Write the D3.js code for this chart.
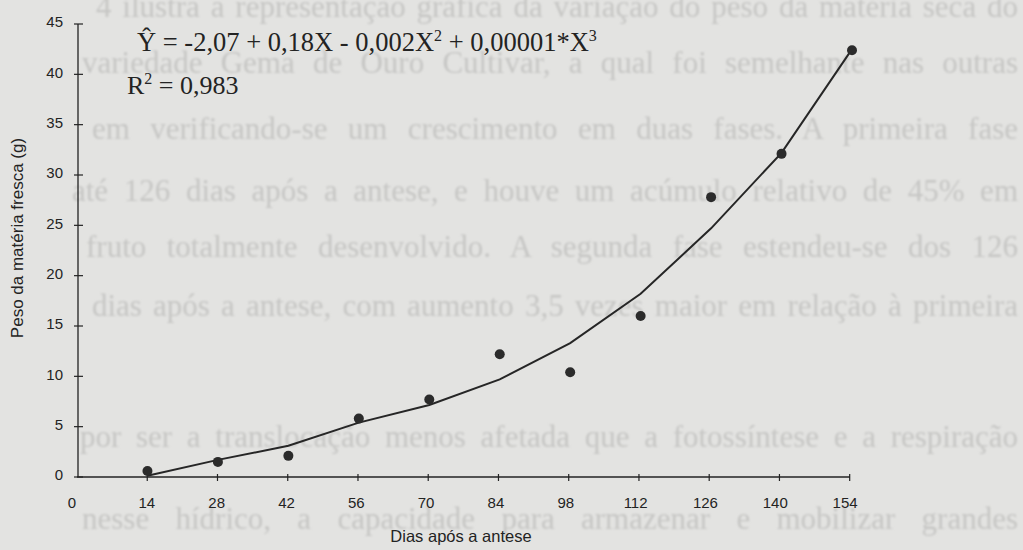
<!DOCTYPE html>
<html>
<head>
<meta charset="utf-8">
<script src="https://cdn.jsdelivr.net/npm/d3@7"></script>
<style>
  html, body { margin: 0; padding: 0; background: #e3e3e1; }
  svg { display: block; }
</style>
</head>
<body>
<svg id="chart" width="1023" height="550"></svg>
<script>
// Days after anthesis and fresh-matter weight (g)
const days = [14, 28, 42, 56, 70, 84, 98, 112, 126, 140, 154];
const observed = [0.6, 1.5, 2.1, 5.8, 7.7, 12.2, 10.4, 16.0, 27.8, 32.1, 42.4];
const fitted = [0.13, 1.7, 3.1, 5.4, 7.15, 9.7, 13.3, 18.2, 24.7, 32.2, 42.5];
const xTicks = [0, 14, 28, 42, 56, 70, 84, 98, 112, 126, 140, 154];
const yTicks = [0, 5, 10, 15, 20, 25, 30, 35, 40, 45];

// Text of the facing page that shows through the paper
const pageLines = [
  "4 ilustra a representação gráfica da variação do peso da matéria seca do",
  "variedade Gema de Ouro Cultivar, a qual foi semelhante nas outras",
  "em verificando-se um crescimento em duas fases. A primeira fase",
  "até 126 dias após a antese, e houve um acúmulo relativo de 45% em",
  "fruto totalmente desenvolvido. A segunda fase estendeu-se dos 126",
  "dias após a antese, com aumento 3,5 vezes maior em relação à primeira",
  "por ser a translocação menos afetada que a fotossíntese e a respiração",
  "nesse hídrico, a capacidade para armazenar e mobilizar grandes"
];

const svg = d3.select("#chart");

// show-through text, justified by widening the word gaps
const defs = svg.append("defs");
defs.append("filter").attr("id", "soft")
  .append("feGaussianBlur").attr("stdDeviation", 1.1);

const ghost = svg.append("g")
  .attr("filter", "url(#soft)")
  .attr("fill", "#c6c6c4")
  .attr("font-family", "'Liberation Serif', 'DejaVu Serif', serif")
  .attr("font-size", 31);
const ghostY = [17, 73, 139, 201, 257, 316, 447, 529];
const ghostX = [96, 82, 92, 72, 86, 92, 80, 82];
const lineEnd = 1018;

pageLines.forEach((txt, i) => {
  const row = ghost.append("text").attr("x", ghostX[i]).attr("y", ghostY[i]).text(txt);
  const natural = row.node().getComputedTextLength();
  const gaps = txt.split(" ").length - 1;
  let size = 31;
  // shrink a row that would not fit the line
  if (natural > lineEnd - ghostX[i]) {
    size = 31 * (lineEnd - ghostX[i]) / natural;
    row.attr("font-size", size);
  }
  const width = row.node().getComputedTextLength();
  const extra = Math.max(0, (lineEnd - ghostX[i] - width) / gaps);
  row.style("word-spacing", extra + "px");
});

// scales
const x = d3.scaleLinear().domain([0, 154]).range([77, 852]);
const y = d3.scaleLinear().domain([0, 45]).range([477, 24]);

const ink = "#232323";
const sans = "'Liberation Sans', Arial, sans-serif";
const serif = "'Liberation Serif', 'Times New Roman', serif";

// y axis
const yAxis = svg.append("g").attr("transform", `translate(${x(0) + 1},0)`);
yAxis.append("line").attr("x1", 0).attr("x2", 0)
  .attr("y1", y(0)).attr("y2", y(45))
  .attr("stroke", ink).attr("stroke-width", 1.3);
yAxis.selectAll("line.tick").data(yTicks).join("line").attr("class", "tick")
  .attr("x1", -4).attr("x2", 5)
  .attr("y1", d => y(d)).attr("y2", d => y(d))
  .attr("stroke", ink).attr("stroke-width", 1.2);
yAxis.selectAll("text").data(yTicks).join("text")
  .attr("x", -15).attr("y", d => y(d) - 2)
  .attr("dy", "0.35em")
  .attr("text-anchor", "end")
  .attr("font-family", sans)
  .attr("font-size", 15)
  .attr("fill", ink)
  .text(d => d);

// x axis
const xAxis = svg.append("g").attr("transform", `translate(0,${y(0)})`);
xAxis.append("line").attr("x1", x(0)).attr("x2", x(154) - 2)
  .attr("y1", 0).attr("y2", 0)
  .attr("stroke", ink).attr("stroke-width", 1.3);
xAxis.selectAll("line.tick").data(xTicks.slice(1)).join("line").attr("class", "tick")
  .attr("x1", d => x(d) - d * 0.015).attr("x2", d => x(d) - d * 0.015)
  .attr("y1", -3).attr("y2", 4)
  .attr("stroke", ink).attr("stroke-width", 1.2);
xAxis.selectAll("text").data(xTicks)
  .join("text")
  .attr("x", d => x(d) - (d === 0 ? 5 : 0) - d * 0.045)
  .attr("y", 31)
  .attr("text-anchor", "middle")
  .attr("font-family", sans)
  .attr("font-size", 15)
  .attr("fill", ink)
  .text(d => d);

// axis titles
svg.append("text")
  .attr("x", 461).attr("y", 542)
  .attr("text-anchor", "middle")
  .attr("font-family", sans)
  .attr("font-size", 16.5)
  .attr("fill", ink)
  .text("Dias após a antese");

svg.append("text")
  .attr("transform", "translate(23,238) rotate(-90)")
  .attr("text-anchor", "middle")
  .attr("font-family", sans)
  .attr("font-size", 17)
  .attr("fill", ink)
  .text("Peso da matéria fresca (g)");

// fitted curve
const line = d3.line().x(d => x(d[0])).y(d => y(d[1]));
svg.append("path")
  .datum(days.map((d, i) => [d, fitted[i]]))
  .attr("d", line)
  .attr("fill", "none")
  .attr("stroke", "#262626")
  .attr("stroke-width", 2);

// observed points
svg.selectAll("circle.obs").data(days).join("circle").attr("class", "obs")
  .attr("cx", d => x(d))
  .attr("cy", (d, i) => y(observed[i]))
  .attr("r", 5)
  .attr("fill", "#2b2b2b");

// regression equation
const eq = svg.append("text")
  .attr("x", 137).attr("y", 51)
  .attr("font-family", serif)
  .attr("font-size", 26.5)
  .attr("fill", ink);
eq.append("tspan").text("Ŷ =  -2,07 + 0,18X - 0,002X");
eq.append("tspan").attr("font-size", 16).attr("dy", -10).text("2");
eq.append("tspan").attr("dy", 10).text(" + 0,00001*X");
eq.append("tspan").attr("font-size", 16).attr("dy", -10).text("3");

const r2 = svg.append("text")
  .attr("x", 127).attr("y", 94)
  .attr("font-family", serif)
  .attr("font-size", 26)
  .attr("fill", ink);
r2.append("tspan").text("R");
r2.append("tspan").attr("font-size", 16).attr("dy", -10).text("2");
r2.append("tspan").attr("dy", 10).text(" = 0,983");
</script>
</body>
</html>
